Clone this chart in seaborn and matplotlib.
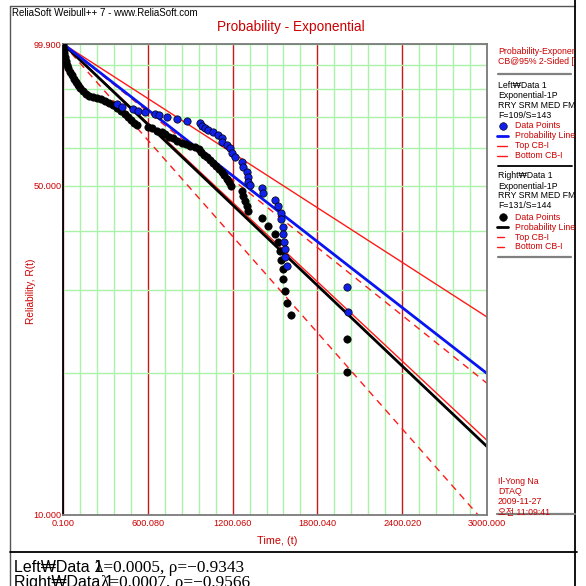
import numpy as np
import matplotlib
matplotlib.use("Agg")
import matplotlib.pyplot as plt
from matplotlib.lines import Line2D
from matplotlib.transforms import Bbox, TransformedBbox
import seaborn as sns

# Left data set (blue points): time and reliability in percent
left_t = [382, 418, 495, 531, 580, 651, 679, 736, 807, 877, 969, 984, 1005, 1026,
          1061, 1097, 1125, 1125, 1160, 1182, 1196, 1217, 1267, 1274, 1302, 1309,
          1309, 1323, 1408, 1415, 1500, 1521, 1542, 1542, 1557, 1557, 1564, 1571,
          1571, 1585, 2009, 2017]
left_r = [74.5, 73.4, 72.7, 72.0, 71.7, 71.0, 70.6, 69.9, 69.3, 68.6, 67.9, 66.9, 66.3, 65.6,
          65.0, 64.0, 63.1, 61.9, 61.0, 60.1, 58.7, 57.5, 56.1, 54.8, 53.5, 52.2,
          50.9, 50.2, 49.4, 48.2, 46.6, 45.3, 43.7, 42.5, 40.9, 39.5, 38.0, 36.7,
          35.3, 33.8, 30.5, 27.0]

# Right data set (black points)
right_t = [0.1, 1.0, 7, 8, 14, 21, 28, 36, 50, 64, 78, 92, 106, 120, 142, 163, 184, 212,
           241, 269, 297, 326, 354, 382, 410, 439, 460, 481, 502, 524, 602, 630, 665,
           701, 722, 750, 778, 807, 842, 870, 899, 934, 962, 976, 998, 1019, 1040,
           1061, 1083, 1104, 1125, 1139, 1160, 1175, 1189, 1267, 1274, 1288, 1302,
           1309, 1408, 1451, 1500, 1521, 1535, 1542, 1557, 1557, 1571, 1585, 1613,
           2009, 2009]
right_r = [99.9, 98.5, 97.0, 95.6, 93.8, 91.9, 90.2, 88.8, 87.1, 85.9, 84.2, 83.0, 81.8, 80.6,
           79.4, 78.2, 77.5, 77.1, 76.7, 76.4, 75.6, 74.9, 74.2, 73.1, 72.0, 71.0, 69.9,
           68.9, 67.9, 67.3, 66.6, 66.3, 65.3, 65.0, 64.4, 63.4, 63.1, 62.2, 61.6, 61.3,
           60.7, 60.4, 59.8, 58.9, 58.1, 57.5, 56.7, 55.9, 55.0, 54.2, 53.5, 52.7, 51.7,
           50.9, 49.9, 48.7, 47.5, 46.4, 45.3, 44.2, 42.7, 41.1, 39.5, 38.0, 36.3, 34.8,
           33.3, 31.7, 29.9, 28.2, 26.6, 23.6, 20.1]

# Fitted exponential rates and 95% two-sided bounds
lam_left, lam_left_top, lam_left_bottom = 0.000537, 0.000445, 0.000646
rho_left = -0.9343
lam_right, lam_right_top, lam_right_bottom = 0.000656, 0.000553, 0.000784
rho_right = -0.9566

x_ticks = [0.1, 600.08, 1200.06, 1800.04, 2400.02, 3000.0]
y_ticks = [10.0, 50.0, 99.9]
y_grid = [20, 30, 40, 60, 70, 80, 90]

sns.set_theme(style="white")
plt.rcParams['font.family'] = ['Liberation Sans', 'DejaVu Sans', 'Noto Sans CJK KR']

RED_TXT = '#cc0000'
W = H = 586
fig = plt.figure(figsize=(5.86, 5.86), dpi=100)
fig.patch.set_facecolor('white')


def fx(px):
    return px / W


def fy(py):
    return 1 - py / H


ax = fig.add_axes([fx(63), fy(515), fx(487) - fx(63), fy(44) - fy(515)])

# Exponential probability paper: ln(R) is linear in time
ax.set_yscale('function', functions=(lambda r: np.log(np.clip(r, 1e-9, None) / 100.0),
                                     lambda v: 100.0 * np.exp(v)))

t_line = np.linspace(0.0, 3000.0, 400)


def rel(lam):
    return 100.0 * np.exp(-lam * t_line)


dash = (0, (5, 4))
sns.lineplot(x=t_line, y=rel(lam_left_top), ax=ax, color='#ff1a1a', lw=1.0, estimator=None)
sns.lineplot(x=t_line, y=rel(lam_left_bottom), ax=ax, color='#ff1a1a', lw=1.0, estimator=None)
sns.lineplot(x=t_line, y=rel(lam_right_top), ax=ax, color='#ff1a1a', lw=1.0,
             linestyle=dash, estimator=None)
sns.lineplot(x=t_line, y=rel(lam_right_bottom), ax=ax, color='#ff1a1a', lw=1.0,
             linestyle=dash, estimator=None)
sns.lineplot(x=t_line, y=rel(lam_right), ax=ax, color='black', lw=2.0, estimator=None)
sns.lineplot(x=t_line, y=rel(lam_left), ax=ax, color='#0a14f0', lw=2.0, estimator=None)

sns.scatterplot(x=right_t, y=right_r, ax=ax, color='black', edgecolor='black',
                s=28, linewidth=0.5, zorder=5)
sns.scatterplot(x=left_t, y=left_r, ax=ax, color='#1020e8', edgecolor='black',
                s=28, linewidth=0.5, zorder=6)

ax.set_xlim(x_ticks[0], x_ticks[-1])
ax.set_ylim(y_ticks[0], y_ticks[-1])
ax.set_xticks(x_ticks)
ax.set_xticklabels([f"{v:.3f}" for v in x_ticks])
ax.set_xticks(np.linspace(x_ticks[0], x_ticks[-1], 26), minor=True)
ax.set_yticks(y_ticks)
ax.set_yticklabels([f"{v:.3f}" for v in y_ticks])
ax.set_yticks(y_grid, minor=True)
ax.yaxis.set_minor_formatter(matplotlib.ticker.NullFormatter())
ax.xaxis.set_minor_formatter(matplotlib.ticker.NullFormatter())

ax.set_axisbelow(True)
ax.grid(which='minor', axis='x', color='#aaf2aa', lw=1.0)
ax.grid(which='major', axis='x', color='#c81818', lw=1.0)
ax.grid(which='both', axis='y', color='#aaf2aa', lw=1.0)
ax.tick_params(which='both', length=0, labelsize=6.6, labelcolor=RED_TXT)
ax.tick_params(axis='y', pad=1)
ax.tick_params(axis='x', pad=3)
for side, sp in ax.spines.items():
    sp.set_linewidth(1.3)
    sp.set_color('#7a7a7a')
ax.spines['left'].set_color('black')
ax.set_xlabel('')
ax.set_ylabel('')

# Titles and axis captions
fig.text(fx(12), fy(13), 'ReliaSoft Weibull++ 7 - www.ReliaSoft.com', ha='left',
         va='center', fontsize=7, color='black')
fig.text(fx(291), fy(27), 'Probability - Exponential', ha='center', va='center',
         fontsize=9.8, color=RED_TXT)
fig.text(fx(277), fy(541), 'Time, (t)', ha='center', va='center', fontsize=7.8, color=RED_TXT)
fig.text(fx(31), fy(291), 'Reliability, R(t)', ha='center', va='center', rotation=90,
         fontsize=7.3, color=RED_TXT)

# Frame lines around the chart and the bottom note box
def hline(y, x0, x1, color='black', lw=1.0):
    fig.add_artist(Line2D([fx(x0), fx(x1)], [fy(y), fy(y)], color=color, lw=lw))


def vline(x, y0, y1, color='black', lw=1.0):
    fig.add_artist(Line2D([fx(x), fx(x)], [fy(y0), fy(y1)], color=color, lw=lw))


hline(6, 10, 575, color='#555555')
vline(10, 6, 586, color='#555555')
vline(575, 0, 586, color='black', lw=1.3)
hline(552, 10, 577, color='black', lw=1.3)

# Side panel (legend) clipped at the frame
clip = TransformedBbox(Bbox([[0, 0], [fx(575), 1]]), fig.transFigure)


def ptext(x, y, s, color='black'):
    t = fig.text(fx(x), fy(y), s, ha='left', va='center', fontsize=6.3, color=color)
    t.set_clip_box(clip)
    t.set_clip_on(True)
    return t


ptext(498, 51, 'Probability-Exponential', RED_TXT)
ptext(498, 61, 'CB@95% 2-Sided [T]', RED_TXT)
hline(74, 498, 571, color='#808080', lw=1.6)

blocks = [
    (85, 'Left\u20a9Data 1', 'F=109/S=143', '#1020e8', '#0a14f0', '-'),
    (176, 'Right\u20a9Data 1', 'F=131/S=144', 'black', 'black', '--'),
]
for y0, name, fs, mcol, lcol, cbstyle in blocks:
    ptext(498, y0, name)
    ptext(498, y0 + 10, 'Exponential-1P')
    ptext(498, y0 + 20, 'RRY SRM MED FM')
    ptext(498, y0 + 30, fs)
    fig.add_artist(Line2D([fx(503)], [fy(y0 + 41)], marker='o', ms=5.5, color=mcol,
                          markeredgecolor='black', markeredgewidth=0.4))
    ptext(515, y0 + 41, 'Data Points', RED_TXT)
    hline(y0 + 51, 497, 508, color=lcol, lw=2.0)
    ptext(515, y0 + 51, 'Probability Line', RED_TXT)
    for k, lab in enumerate(['Top CB-I', 'Bottom CB-I']):
        yy = y0 + 61 + 10 * k
        if cbstyle == '-':
            hline(yy, 497, 507, color='#ff1a1a', lw=1.0)
        else:
            hline(yy, 497, 504, color='#ff1a1a', lw=1.0)
        ptext(515, yy, lab, RED_TXT)

hline(166, 498, 572, color='black', lw=1.3)
hline(257, 498, 571, color='#808080', lw=1.6)

ptext(498, 482, 'Il-Yong Na', RED_TXT)
ptext(498, 492, 'DTAQ', RED_TXT)
ptext(498, 502, '2009-11-27', RED_TXT)
ptext(498, 512, '오전 11:09:41', RED_TXT)
hline(514, 497, 575, color='#808080', lw=1.6)

# Fit summary below the chart
sans = ['Liberation Sans', 'DejaVu Sans']
serif = ['Liberation Serif', 'DejaVu Serif']
fig.text(fx(14), fy(572), 'Left\u20a9Data 1', ha='left', va='baseline', fontsize=11.5,
         family=sans, color='black')
fig.text(fx(95), fy(572), f'\u03bb={lam_left:.4f}, \u03c1={rho_left:.4f}'.replace('-', '\u2212'),
         ha='left', va='baseline', fontsize=12.4, family=serif, color='black')
fig.text(fx(14), fy(587), 'Right\u20a9Data 1', ha='left', va='baseline', fontsize=11.5,
         family=sans, color='black')
fig.text(fx(101), fy(587), f'\u03bb={lam_right:.4f}, \u03c1={rho_right:.4f}'.replace('-', '\u2212'),
         ha='left', va='baseline', fontsize=12.4, family=serif, color='black')

fig.savefig('out.png', dpi=100)
